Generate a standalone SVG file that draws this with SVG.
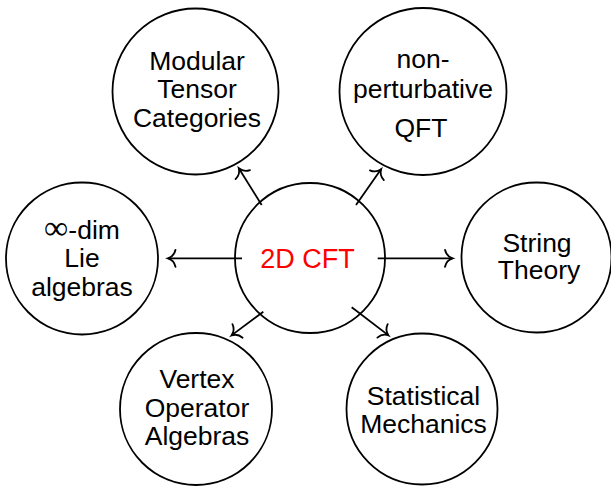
<svg xmlns="http://www.w3.org/2000/svg" width="611" height="486" viewBox="0 0 611 486">
<style>
.node{fill:#fff;stroke:#000;stroke-width:1.8}
.t{font-family:"Liberation Sans",Arial,sans-serif;font-size:26.5px;fill:#000;text-anchor:middle}
.c{fill:#ff0000;font-size:27px}
.e{fill:none;stroke:#000;stroke-width:1.8}
</style>
<defs>
<marker id="to" markerUnits="userSpaceOnUse" orient="auto" refX="0" refY="0" markerWidth="20" markerHeight="20" viewBox="-10 -10 20 20" overflow="visible">
<path d="M-7.5,-8.5 C-6.5,-3.5 -2.5,-0.8 0,0 C-2.5,0.8 -6.5,3.5 -7.5,8.5" fill="none" stroke="#000" stroke-width="1.8" stroke-linecap="round"/>
</marker>
</defs>
<g id="center">
<circle class="node" cx="310" cy="258" r="75"/>
<text class="t c" x="307.5" y="268.3">2D CFT</text>
</g>
<g id="mtc">
<circle class="node" cx="195.5" cy="91.5" r="83"/>
<text class="t" x="197" y="70">Modular</text>
<text class="t" x="197" y="98.3">Tensor</text>
<text class="t" x="197" y="126.7">Categories</text>
</g>
<g id="qft">
<circle class="node" cx="423" cy="91.5" r="83.5"/>
<text class="t" x="423" y="68.3">non-</text>
<text class="t" x="423" y="98.3">perturbative</text>
<text class="t" x="421" y="136.7">QFT</text>
</g>
<g id="lie">
<circle class="node" cx="82" cy="258.5" r="76"/>
<text class="t" x="82" y="239"><tspan font-family="DejaVu Sans" font-size="34" font-weight="300">∞</tspan>-dim</text>
<text class="t" x="82" y="267.3">Lie</text>
<text class="t" x="82" y="295.6">algebras</text>
</g>
<g id="string">
<circle class="node" cx="536.5" cy="257.5" r="75"/>
<text class="t" x="537" y="251.5">String</text>
<text class="t" x="539" y="278.8">Theory</text>
</g>
<g id="voa">
<circle class="node" cx="196" cy="409" r="76"/>
<text class="t" x="197" y="388.3">Vertex</text>
<text class="t" x="197" y="416.7">Operator</text>
<text class="t" x="197" y="445">Algebras</text>
</g>
<g id="stat">
<circle class="node" cx="422" cy="409" r="75.5"/>
<text class="t" x="423.5" y="405">Statistical</text>
<text class="t" x="423.5" y="433.3">Mechanics</text>
</g>
<g id="connectors">
<line class="e" x1="242" y1="258.3" x2="168" y2="258.3" marker-end="url(#to)"/>
<line class="e" x1="261.7" y1="205" x2="238.8" y2="168.2" marker-end="url(#to)"/>
<line class="e" x1="356" y1="205" x2="381.2" y2="169.1" marker-end="url(#to)"/>
<line class="e" x1="377.7" y1="258.3" x2="452.5" y2="258.3" marker-end="url(#to)"/>
<line class="e" x1="263.3" y1="311.7" x2="231.5" y2="335.4" marker-end="url(#to)"/>
<line class="e" x1="351.7" y1="307.3" x2="388.5" y2="335.4" marker-end="url(#to)"/>
</g>
</svg>
